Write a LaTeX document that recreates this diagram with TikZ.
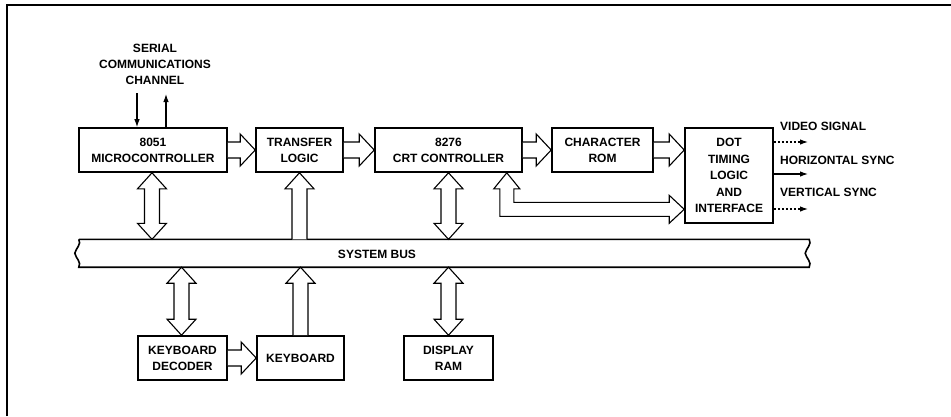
\documentclass[tikz,border=0pt]{standalone}
\usepackage{fontspec}
\setmainfont{Liberation Sans}
\usetikzlibrary{calc,arrows.meta}

% half widths and head lengths of the hollow bus arrows
\def\fsw{8}   % horizontal arrow: shaft half width
\def\fhw{16}  % horizontal arrow: head half width
\def\fhl{15}  % horizontal arrow: head length
\def\vsw{7.5} % vertical arrow: shaft half width
\def\vhw{14.5}% vertical arrow: head half width
\def\vhl{16}  % vertical arrow: head length

% hollow arrow pointing right, open tail at #1, tip at #2
\newcommand\fatH[2]{%
  \draw[fat] ($(#1)+(0,-\fsw)$) -- ($(#2)+(-\fhl,-\fsw)$) -- ($(#2)+(-\fhl,-\fhw)$)
    -- (#2) -- ($(#2)+(-\fhl,\fhw)$) -- ($(#2)+(-\fhl,\fsw)$) -- ($(#1)+(0,\fsw)$);}
% hollow two-headed vertical arrow, upper tip #1, lower tip #2
\newcommand\fatUD[2]{%
  \draw[fat] (#1) -- ($(#1)+(\vhw,\vhl)$) -- ($(#1)+(\vsw,\vhl)$) -- ($(#2)+(\vsw,-\vhl)$)
    -- ($(#2)+(\vhw,-\vhl)$) -- (#2) -- ($(#2)+(-\vhw,-\vhl)$) -- ($(#2)+(-\vsw,-\vhl)$)
    -- ($(#1)+(-\vsw,\vhl)$) -- ($(#1)+(-\vhw,\vhl)$) -- cycle;}
% hollow arrow pointing up, open tail at #1, tip at #2
\newcommand\fatU[2]{%
  \draw[fat] ($(#1)+(-\vsw,0)$) -- ($(#2)+(-\vsw,\vhl)$) -- ($(#2)+(-\vhw,\vhl)$)
    -- (#2) -- ($(#2)+(\vhw,\vhl)$) -- ($(#2)+(\vsw,\vhl)$) -- ($(#1)+(\vsw,0)$);}

\begin{document}
\begin{tikzpicture}[x=1pt,y=-1pt,
  txt/.style={font=\fontsize{12}{16}\selectfont\bfseries},
  box/.style={txt, draw, line width=1.6pt, inner sep=0pt, align=center},
  lbl/.style={txt, inner sep=0pt, align=center},
  fat/.style={draw, line width=1.1pt, fill=white, line join=miter},
  sig/.style={line width=1.1pt, -{Latex[length=8pt,width=5.5pt]}},
  dotsig/.style={sig, dash pattern=on 2.5pt off 1.5pt}]

\useasboundingbox (0,0) rectangle (951,416);

% page frame
\draw[line width=1.6pt] (7,416) -- (7,5) -- (951,5);

% top row of blocks
\node[box, minimum width=148, minimum height=44] (mc)  at (153,150)   {8051\\MICROCONTROLLER};
\node[box, minimum width=87,  minimum height=44] (tl)  at (299.5,150) {TRANSFER\\LOGIC};
\node[box, minimum width=147, minimum height=44] (crt) at (448.5,150) {8276\\CRT CONTROLLER};
\node[box, minimum width=101, minimum height=44] (rom) at (602.5,150) {CHARACTER\\ROM};
\node[box, minimum width=88,  minimum height=95, font=\fontsize{12}{16.5}\selectfont\bfseries]
  (dot) at (729,175.5) {DOT\\TIMING\\LOGIC\\AND\\INTERFACE};

% bottom row of blocks
\node[box, minimum width=89, minimum height=44] (kd)  at (182.5,358) {KEYBOARD\\DECODER};
\node[box, minimum width=87, minimum height=44] (kb)  at (300.5,358) {KEYBOARD};
\node[box, minimum width=89, minimum height=44] (ram) at (448.5,358) {DISPLAY\\RAM};

% system bus with broken ends
\node[minimum width=730, minimum height=27.5, inner sep=0pt] (bus) at (444,253.25) {};
\draw[line width=1.6pt] (bus.north west) -- (bus.north east)
  .. controls +(3,5) and +(1,-5) .. ($(bus.east)+(-4,0)$)
  .. controls +(1,5) and +(3,-5) .. (bus.south east)
  -- (bus.south west)
  .. controls +(3,-5) and +(1,5) .. ($(bus.west)+(-4,0)$)
  .. controls +(1,-5) and +(3,5) .. (bus.north west);
\node[lbl] (buslbl) at (377,254) {SYSTEM BUS};

% serial channel
\node[lbl] (serial) at (155,64) {SERIAL\\COMMUNICATIONS\\CHANNEL};
\coordinate (sdn) at (137,93);
\coordinate (sup) at (166,94);
\draw[sig] (sdn) -- (sdn |- mc.north);
\draw[sig] (sup |- mc.north) -- (sup);

% data paths along the top row
\fatH{mc.east}{tl.west}
\fatH{tl.east}{crt.west}
\fatH{crt.east}{rom.west}
\fatH{rom.east}{dot.west |- rom.east}
\fatH{kd.east}{kb.west}

% bus connections
\fatUD{$(mc.south)+(-1,0)$}{$(mc.south |- bus.north)+(-1,0)$}
\fatUD{crt.south}{crt.south |- bus.north}
\fatU{tl.south |- bus.north}{tl.south}
\fatUD{$(kd.north |- bus.south)+(-1,0)$}{$(kd.north)+(-1,0)$}
\fatUD{ram.north |- bus.south}{ram.north}
\fatU{kb.north}{kb.north |- bus.south}

% CRT controller to dot timing logic
\coordinate (lt) at ($(crt.south east)+(-16,0)$);
\coordinate (lr) at ($(dot.south west)+(0,-14.5)$);
\coordinate (lc) at (lt |- lr);
\draw[fat] (lt) -- ($(lt)+(13,16)$) -- ($(lt)+(7,16)$) -- ($(lc)+(7,-7)$)
  -- ($(lr)+(-15,-7)$) -- ($(lr)+(-15,-14)$) -- (lr) -- ($(lr)+(-15,14)$)
  -- ($(lr)+(-15,7)$) -- ($(lc)+(-7,7)$) -- ($(lt)+(-7,16)$) -- ($(lt)+(-13,16)$) -- cycle;

% video outputs
\coordinate (o1) at (808,142);
\coordinate (o2) at (808,174);
\coordinate (o3) at (808,209);
\draw[dotsig] (o1 -| dot.east) -- (o1);
\draw[sig]    (o2 -| dot.east) -- (o2);
\draw[dotsig] (o3 -| dot.east) -- (o3);
\node[lbl, anchor=west] (vsig) at (780,126) {VIDEO SIGNAL};
\node[lbl, anchor=west] (hsyn) at (780,160) {HORIZONTAL SYNC};
\node[lbl, anchor=west] (vsyn) at (780,192) {VERTICAL SYNC};
\end{tikzpicture}
\end{document}
